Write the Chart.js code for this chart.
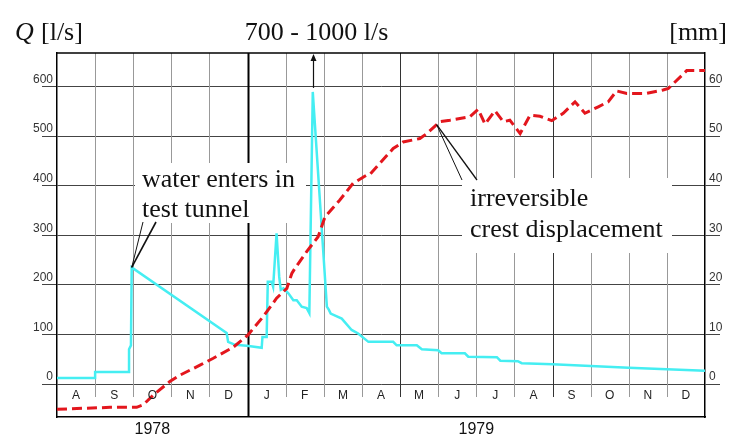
<!DOCTYPE html>
<html>
<head>
<meta charset="utf-8">
<script src="https://cdn.jsdelivr.net/npm/chart.js@4.4.1/dist/chart.umd.min.js"></script>
<style>
  html, body { margin: 0; padding: 0; background: #fff; }
</style>
</head>
<body>
<canvas id="chart" width="730" height="437"></canvas>
<script>
// months from Aug 1978 to Dec 1979
const months = ["A", "S", "O", "N", "D", "J", "F", "M", "A", "M", "J", "J", "A", "S", "O", "N", "D"];
const years = ["1978", "1979"];
const yearCenters = [2.5, 11];
const flowTicks = [0, 100, 200, 300, 400, 500, 600];
const dispTicks = [0, 10, 20, 30, 40, 50, 60];

// discharge Q [l/s]; x = months since 1 Aug 1978
const qMonth = [0, 1.0, 1.0, 1.89, 1.89, 1.94, 1.96, 4.45, 4.49, 4.67,
  4.98, 5.37, 5.39, 5.50, 5.53, 5.63, 5.67, 5.76, 5.83, 5.87,
  5.94, 6.07, 6.20, 6.29, 6.42, 6.55, 6.62, 6.71, 7.08, 7.13,
  7.18, 7.47, 7.73, 7.90, 8.17, 8.82, 8.91, 9.44, 9.57, 10.0,
  10.09, 10.70, 10.79, 11.54, 11.63, 12.09, 12.19, 13.0, 15.0, 17.0];
const qFlow = [12, 12, 24, 24, 70, 78, 235, 103, 85, 79,
  77, 73, 95, 95, 206, 206, 196, 304, 216, 190,
  193, 183, 169, 169, 156, 153, 143, 589, 156, 150,
  142, 132, 109, 102, 85, 85, 78, 78, 70, 68,
  62, 62, 55, 54, 47, 46, 42, 40, 33, 27];

// crest displacement [mm]
const dMonth = [0, 0.69, 1.39, 2.09, 2.26, 2.53, 2.96, 3.23, 3.75, 4.10,
  4.62, 5.0, 5.41, 5.76, 6.03, 6.16, 6.24, 6.55, 6.85, 7.03,
  7.42, 7.77, 8.12, 8.21, 8.47, 8.82, 9.08, 9.52, 9.70, 10.05,
  10.31, 10.83, 11.05, 11.23, 11.49, 11.71, 11.88, 12.15, 12.41, 12.67,
  12.98, 13.28, 13.59, 13.85, 14.20, 14.46, 14.68, 14.95, 15.47, 15.90,
  16.04, 16.52, 17.0];
const dMm = [-5.1, -4.9, -4.7, -4.7, -4.2, -2.2, 0.5, 1.8, 3.8, 5.2,
  7.4, 9.8, 13.6, 17.3, 19.3, 22.3, 23.3, 26.7, 29.7, 33.7,
  37.1, 40.5, 42.1, 42.3, 44.5, 47.5, 48.8, 49.5, 50.5, 52.9,
  53.2, 53.9, 55.4, 52.4, 55.1, 52.9, 53.2, 50.5, 54.2, 54.0,
  53.1, 54.6, 56.9, 54.6, 55.9, 56.9, 59.1, 58.6, 58.6, 59.3,
  59.6, 63.2, 63.2];

// points the notes point at
const tunnelPoint = { x: 1.96, y: 235 };
const crestPoint = { x: 9.96, y: 52.3 };
const peakPoint = { x: 6.71, y: 589 };

const SERIF = '26px "Liberation Serif", "Times New Roman", serif';
const SANS = '"Liberation Sans", Arial, sans-serif';
const strongLines = [9, 13];

// grid, month row, notes and titles
const decor = {
  id: "decor",
  beforeDatasetsDraw(chart) {
    const { ctx, chartArea: { top, bottom }, scales: { x, y } } = chart;
    const y0 = y.getPixelForValue(0);
    ctx.save();
    for (let i = 1; i < months.length; i++) {
      const px = Math.round(x.getPixelForValue(i)) + 0.5;
      ctx.beginPath();
      if (i === 5) {
        ctx.strokeStyle = "#000";
        ctx.lineWidth = 2;
        ctx.moveTo(px, top);
        ctx.lineTo(px, bottom);
      } else {
        ctx.strokeStyle = strongLines.includes(i) ? "#333" : "#999";
        ctx.lineWidth = 1;
        ctx.moveTo(px, top);
        ctx.lineTo(px, y0 + 13);
      }
      ctx.stroke();
    }
    // white boxes behind the notes
    ctx.fillStyle = "#fff";
    ctx.fillRect(135, 163, 171, 60);
    ctx.fillRect(462, 178, 210, 75);
    ctx.restore();
  },
  afterDatasetsDraw(chart) {
    const { ctx, chartArea: { top, left, right }, scales: { x, y, y2 } } = chart;
    const y0 = y.getPixelForValue(0);
    ctx.save();

    // top frame line
    ctx.strokeStyle = "#000";
    ctx.lineWidth = 1.5;
    ctx.beginPath();
    ctx.moveTo(left, top);
    ctx.lineTo(right, top);
    ctx.stroke();

    // month letters
    ctx.fillStyle = "#222";
    ctx.font = "12px " + SANS;
    ctx.textAlign = "center";
    ctx.textBaseline = "middle";
    months.forEach((m, i) => {
      ctx.fillText(m, x.getPixelForValue(i + 0.5), y0 + 12);
    });

    // notes
    ctx.fillStyle = "#111";
    ctx.font = SERIF;
    ctx.textAlign = "left";
    ctx.textBaseline = "alphabetic";
    ctx.fillText("water enters in", 142, 187);
    ctx.fillText("test tunnel", 142, 217);
    ctx.fillText("irreversible", 470, 206);
    ctx.fillText("crest displacement", 470, 237);

    // leader lines
    ctx.strokeStyle = "#111";
    const tx = x.getPixelForValue(tunnelPoint.x), ty = y.getPixelForValue(tunnelPoint.y);
    ctx.lineWidth = 1;
    ctx.beginPath(); ctx.moveTo(tx, ty); ctx.lineTo(143, 222); ctx.stroke();
    ctx.lineWidth = 1.6;
    ctx.beginPath(); ctx.moveTo(tx, ty); ctx.lineTo(156, 222); ctx.stroke();
    const cx = x.getPixelForValue(crestPoint.x), cy = y2.getPixelForValue(crestPoint.y);
    ctx.lineWidth = 1;
    ctx.beginPath(); ctx.moveTo(cx, cy); ctx.lineTo(462, 180); ctx.stroke();
    ctx.lineWidth = 1.3;
    ctx.beginPath(); ctx.moveTo(cx, cy); ctx.lineTo(477, 180); ctx.stroke();

    // arrow above the flood peak
    const ax = Math.round(x.getPixelForValue(peakPoint.x)) + 0.5;
    const ay = y.getPixelForValue(peakPoint.y);
    ctx.lineWidth = 1.2;
    ctx.beginPath();
    ctx.moveTo(ax, ay - 4);
    ctx.lineTo(ax, top + 6);
    ctx.stroke();
    ctx.beginPath();
    ctx.moveTo(ax, top + 1);
    ctx.lineTo(ax - 3, top + 8);
    ctx.lineTo(ax + 3, top + 8);
    ctx.closePath();
    ctx.fill();

    // titles
    ctx.fillStyle = "#111";
    ctx.font = "italic " + SERIF;
    ctx.fillText("Q", 15, 39.5);
    ctx.font = SERIF;
    ctx.fillText("[l/s]", 41, 39.5);
    ctx.textAlign = "center";
    ctx.fillText("700 - 1000 l/s", ax + 3, 39.5);
    ctx.textAlign = "right";
    ctx.fillText("[mm]", 727, 39.5);

    ctx.restore();
  }
};

new Chart(document.getElementById("chart"), {
  type: "line",
  data: {
    datasets: [
      {
        label: "Crest displacement",
        data: dMonth.map((m, i) => ({ x: m, y: dMm[i] })),
        borderColor: "#e3161d",
        borderWidth: 3,
        borderDash: [10, 5],
        pointRadius: 0,
        tension: 0,
        yAxisID: "y2"
      },
      {
        label: "Q",
        data: qMonth.map((m, i) => ({ x: m, y: qFlow[i] })),
        borderColor: "#45eef2",
        borderWidth: 2.5,
        pointRadius: 0,
        tension: 0,
        yAxisID: "y"
      }
    ]
  },
  options: {
    responsive: false,
    animation: false,
    devicePixelRatio: 1,
    layout: { padding: { top: 53, left: 0, right: 0, bottom: 0 } },
    plugins: {
      legend: { display: false },
      tooltip: { enabled: false }
    },
    scales: {
      x: {
        type: "linear",
        min: 0,
        max: 17,
        afterBuildTicks: s => { s.ticks = yearCenters.map(v => ({ value: v })); },
        afterFit: s => { s.height = 20; },
        grid: { display: false, drawTicks: false },
        border: { display: true, color: "#000", width: 1.5 },
        ticks: {
          autoSkip: false,
          maxRotation: 0,
          padding: 3,
          color: "#111",
          font: { family: SANS, size: 16 },
          callback: (v, i) => years[i]
        }
      },
      y: {
        position: "left",
        min: -66.5,
        max: 667.5,
        afterBuildTicks: s => { s.ticks = flowTicks.map(v => ({ value: v })); },
        afterFit: s => { s.width = 57; },
        grid: { color: "#444", lineWidth: 1, tickLength: 15 },
        border: { display: true, color: "#000", width: 1.5 },
        ticks: {
          padding: -11,
          labelOffset: -7,
          color: "#333",
          font: { family: SANS, size: 12 }
        }
      },
      y2: {
        position: "right",
        min: -6.65,
        max: 66.75,
        afterBuildTicks: s => { s.ticks = dispTicks.map(v => ({ value: v })); },
        afterFit: s => { s.width = 25; },
        grid: { drawOnChartArea: false, color: "#444", lineWidth: 1, tickLength: 15 },
        border: { display: true, color: "#000", width: 1.5 },
        ticks: {
          padding: -11,
          labelOffset: -7,
          color: "#333",
          font: { family: SANS, size: 12 }
        }
      }
    }
  },
  plugins: [decor]
});
</script>
</body>
</html>
